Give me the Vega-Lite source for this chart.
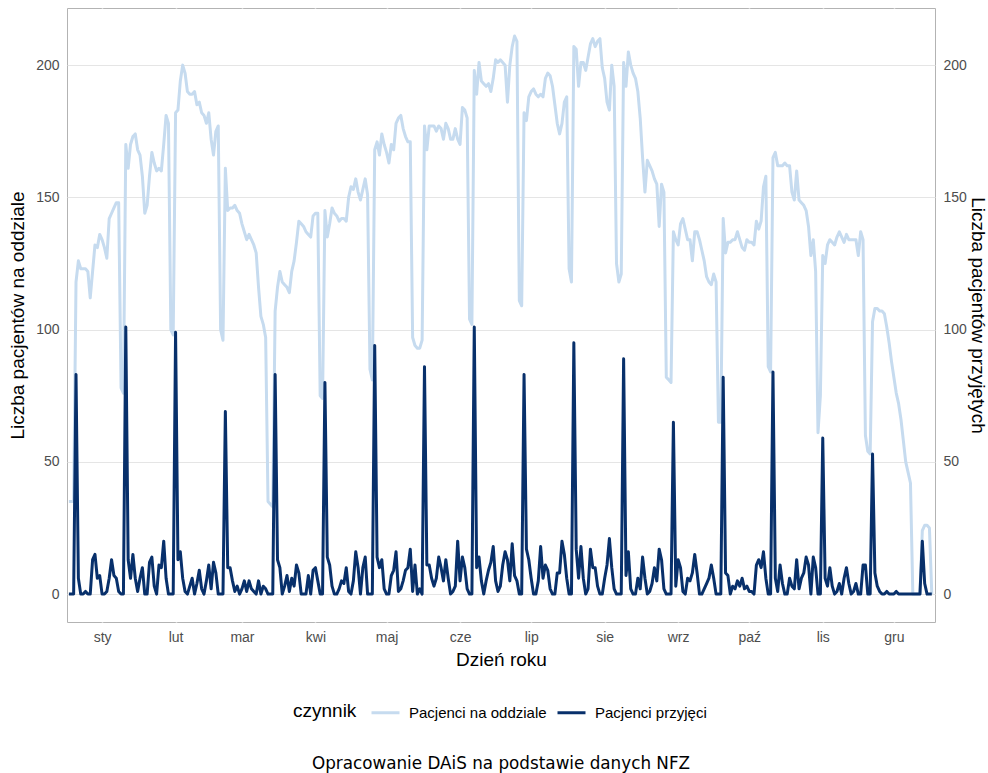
{
"$schema": "https://vega.github.io/schema/vega-lite/v6.json",
"width": 868, "height": 614,
"autosize": {"type": "none"},
"padding": {"left": 67, "top": 8, "right": 53, "bottom": 151},
"background": "white",
"title": {"text": "Opracowanie DAiS na podstawie danych NFZ", "orient": "bottom", "anchor": "middle", "offset": 35, "font": "DejaVu Sans", "fontSize": 16.8, "fontWeight": "normal", "color": "#000000"},
"config": {
 "view": {"stroke": "#b3b3b3", "strokeWidth": 1},
 "font": "Liberation Sans",
 "axis": {"domain": false, "ticks": false, "labelFontSize": 14, "labelColor": "#4d4d4d", "titleFontSize": 19, "titleFontWeight": "normal", "titleColor": "#000000", "gridColor": "#e5e5e5", "gridWidth": 1}
},
"data": {"values": [
{"d":1,"o":35,"p":0},{"d":2,"o":35,"p":0},{"d":3,"o":35,"p":0},{"d":4,"o":118,"p":83},{"d":5,"o":126,"p":6},{"d":6,"o":123,"p":0},{"d":7,"o":123,"p":0},{"d":8,"o":123,"p":1},{"d":9,"o":122,"p":0},{"d":10,"o":112,"p":0},
{"d":11,"o":122,"p":13},{"d":12,"o":132,"p":15},{"d":13,"o":131,"p":6},{"d":14,"o":136,"p":7},{"d":15,"o":134,"p":0},{"d":16,"o":131,"p":0},{"d":17,"o":127,"p":1},{"d":18,"o":142,"p":6},{"d":19,"o":144,"p":13},{"d":20,"o":146,"p":7},
{"d":21,"o":148,"p":6},{"d":22,"o":148,"p":1},{"d":23,"o":78,"p":0},{"d":24,"o":76,"p":0},{"d":25,"o":170,"p":101},{"d":26,"o":161,"p":13},{"d":27,"o":170,"p":6},{"d":28,"o":173,"p":15},{"d":29,"o":174,"p":6},{"d":30,"o":168,"p":1},
{"d":31,"o":166,"p":6},{"d":32,"o":158,"p":10},{"d":33,"o":144,"p":0},{"d":34,"o":147,"p":0},{"d":35,"o":158,"p":12},{"d":36,"o":167,"p":14},{"d":37,"o":163,"p":3},{"d":38,"o":160,"p":0},{"d":39,"o":161,"p":11},{"d":40,"o":160,"p":10},
{"d":41,"o":170,"p":20},{"d":42,"o":181,"p":6},{"d":43,"o":178,"p":0},{"d":44,"o":100,"p":0},{"d":45,"o":98,"p":0},{"d":46,"o":182,"p":99},{"d":47,"o":183,"p":13},{"d":48,"o":194,"p":16},{"d":49,"o":200,"p":6},{"d":50,"o":197,"p":1},
{"d":51,"o":190,"p":0},{"d":52,"o":189,"p":3},{"d":53,"o":189,"p":6},{"d":54,"o":190,"p":0},{"d":55,"o":185,"p":4},{"d":56,"o":186,"p":9},{"d":57,"o":182,"p":2},{"d":58,"o":181,"p":0},{"d":59,"o":178,"p":5},{"d":60,"o":182,"p":11},
{"d":61,"o":172,"p":2},{"d":62,"o":166,"p":12},{"d":63,"o":175,"p":8},{"d":64,"o":177,"p":0},{"d":65,"o":100,"p":0},{"d":66,"o":96,"p":0},{"d":67,"o":161,"p":69},{"d":68,"o":145,"p":10},{"d":69,"o":146,"p":10},{"d":70,"o":146,"p":5},
{"d":71,"o":147,"p":1},{"d":72,"o":145,"p":3},{"d":73,"o":144,"p":0},{"d":74,"o":140,"p":2},{"d":75,"o":137,"p":5},{"d":76,"o":134,"p":1},{"d":77,"o":136,"p":5},{"d":78,"o":134,"p":2},{"d":79,"o":132,"p":1},{"d":80,"o":129,"p":0},
{"d":81,"o":116,"p":5},{"d":82,"o":105,"p":0},{"d":83,"o":102,"p":3},{"d":84,"o":97,"p":2},{"d":85,"o":35,"p":0},{"d":86,"o":34,"p":0},{"d":87,"o":33,"p":0},{"d":88,"o":107,"p":83},{"d":89,"o":116,"p":13},{"d":90,"o":122,"p":10},
{"d":91,"o":118,"p":0},{"d":92,"o":117,"p":3},{"d":93,"o":116,"p":7},{"d":94,"o":114,"p":1},{"d":95,"o":122,"p":6},{"d":96,"o":126,"p":3},{"d":97,"o":133,"p":11},{"d":98,"o":141,"p":8},{"d":99,"o":140,"p":0},{"d":100,"o":139,"p":0},
{"d":101,"o":137,"p":0},{"d":102,"o":136,"p":7},{"d":103,"o":135,"p":0},{"d":104,"o":143,"p":9},{"d":105,"o":144,"p":10},{"d":106,"o":144,"p":5},{"d":107,"o":75,"p":0},{"d":108,"o":74,"p":0},{"d":109,"o":145,"p":80},{"d":110,"o":135,"p":14},
{"d":111,"o":140,"p":11},{"d":112,"o":146,"p":3},{"d":113,"o":144,"p":0},{"d":114,"o":143,"p":0},{"d":115,"o":141,"p":2},{"d":116,"o":142,"p":5},{"d":117,"o":142,"p":4},{"d":118,"o":141,"p":10},{"d":119,"o":150,"p":1},{"d":120,"o":154,"p":0},
{"d":121,"o":153,"p":5},{"d":122,"o":157,"p":16},{"d":123,"o":152,"p":10},{"d":124,"o":149,"p":0},{"d":125,"o":153,"p":10},{"d":126,"o":157,"p":14},{"d":127,"o":151,"p":0},{"d":128,"o":85,"p":0},{"d":129,"o":81,"p":0},{"d":130,"o":168,"p":94},
{"d":131,"o":171,"p":14},{"d":132,"o":166,"p":10},{"d":133,"o":174,"p":13},{"d":134,"o":170,"p":2},{"d":135,"o":167,"p":0},{"d":136,"o":163,"p":0},{"d":137,"o":170,"p":7},{"d":138,"o":168,"p":9},{"d":139,"o":178,"p":16},{"d":140,"o":180,"p":1},
{"d":141,"o":181,"p":2},{"d":142,"o":176,"p":5},{"d":143,"o":173,"p":9},{"d":144,"o":171,"p":10},{"d":145,"o":171,"p":17},{"d":146,"o":97,"p":1},{"d":147,"o":94,"p":11},{"d":148,"o":93,"p":0},{"d":149,"o":93,"p":2},{"d":150,"o":96,"p":0},
{"d":151,"o":177,"p":86},{"d":152,"o":168,"p":11},{"d":153,"o":177,"p":11},{"d":154,"o":177,"p":6},{"d":155,"o":177,"p":3},{"d":156,"o":175,"p":6},{"d":157,"o":177,"p":14},{"d":158,"o":176,"p":10},{"d":159,"o":172,"p":5},{"d":160,"o":178,"p":13},
{"d":161,"o":176,"p":6},{"d":162,"o":172,"p":0},{"d":163,"o":172,"p":1},{"d":164,"o":176,"p":3},{"d":165,"o":172,"p":20},{"d":166,"o":170,"p":5},{"d":167,"o":184,"p":14},{"d":168,"o":183,"p":10},{"d":169,"o":180,"p":2},{"d":170,"o":104,"p":0},
{"d":171,"o":102,"p":0},{"d":172,"o":198,"p":101},{"d":173,"o":189,"p":10},{"d":174,"o":201,"p":14},{"d":175,"o":194,"p":5},{"d":176,"o":193,"p":0},{"d":177,"o":192,"p":5},{"d":178,"o":193,"p":9},{"d":179,"o":190,"p":12},{"d":180,"o":195,"p":18},
{"d":181,"o":202,"p":5},{"d":182,"o":201,"p":1},{"d":183,"o":202,"p":3},{"d":184,"o":201,"p":11},{"d":185,"o":200,"p":16},{"d":186,"o":186,"p":13},{"d":187,"o":200,"p":5},{"d":188,"o":207,"p":19},{"d":189,"o":211,"p":7},{"d":190,"o":209,"p":5},
{"d":191,"o":111,"p":0},{"d":192,"o":109,"p":0},{"d":193,"o":182,"p":83},{"d":194,"o":179,"p":17},{"d":195,"o":188,"p":13},{"d":196,"o":190,"p":6},{"d":197,"o":191,"p":0},{"d":198,"o":189,"p":0},{"d":199,"o":188,"p":5},{"d":200,"o":189,"p":18},
{"d":201,"o":188,"p":6},{"d":202,"o":195,"p":11},{"d":203,"o":197,"p":9},{"d":204,"o":196,"p":2},{"d":205,"o":192,"p":0},{"d":206,"o":185,"p":0},{"d":207,"o":178,"p":8},{"d":208,"o":174,"p":8},{"d":209,"o":178,"p":20},{"d":210,"o":186,"p":15},
{"d":211,"o":188,"p":6},{"d":212,"o":123,"p":0},{"d":213,"o":118,"p":0},{"d":214,"o":207,"p":95},{"d":215,"o":206,"p":17},{"d":216,"o":192,"p":6},{"d":217,"o":201,"p":18},{"d":218,"o":201,"p":6},{"d":219,"o":198,"p":0},{"d":220,"o":203,"p":2},
{"d":221,"o":208,"p":17},{"d":222,"o":210,"p":10},{"d":223,"o":207,"p":10},{"d":224,"o":209,"p":3},{"d":225,"o":210,"p":0},{"d":226,"o":199,"p":0},{"d":227,"o":195,"p":6},{"d":228,"o":186,"p":11},{"d":229,"o":183,"p":21},{"d":230,"o":200,"p":10},
{"d":231,"o":192,"p":2},{"d":232,"o":125,"p":0},{"d":233,"o":118,"p":0},{"d":234,"o":121,"p":0},{"d":235,"o":201,"p":89},{"d":236,"o":192,"p":7},{"d":237,"o":205,"p":16},{"d":238,"o":200,"p":2},{"d":239,"o":197,"p":0},{"d":240,"o":195,"p":0},
{"d":241,"o":190,"p":6},{"d":242,"o":180,"p":2},{"d":243,"o":165,"p":14},{"d":244,"o":152,"p":6},{"d":245,"o":164,"p":0},{"d":246,"o":162,"p":1},{"d":247,"o":160,"p":4},{"d":248,"o":157,"p":10},{"d":249,"o":155,"p":5},{"d":250,"o":139,"p":17},
{"d":251,"o":155,"p":13},{"d":252,"o":152,"p":2},{"d":253,"o":82,"p":0},{"d":254,"o":81,"p":0},{"d":255,"o":80,"p":0},{"d":256,"o":137,"p":65},{"d":257,"o":134,"p":3},{"d":258,"o":132,"p":13},{"d":259,"o":140,"p":10},{"d":260,"o":142,"p":1},
{"d":261,"o":138,"p":0},{"d":262,"o":134,"p":6},{"d":263,"o":134,"p":5},{"d":264,"o":126,"p":8},{"d":265,"o":137,"p":15},{"d":266,"o":137,"p":8},{"d":267,"o":134,"p":0},{"d":268,"o":130,"p":0},{"d":269,"o":126,"p":2},{"d":270,"o":120,"p":4},
{"d":271,"o":118,"p":6},{"d":272,"o":117,"p":11},{"d":273,"o":121,"p":6},{"d":274,"o":118,"p":0},{"d":275,"o":65,"p":0},{"d":276,"o":65,"p":0},{"d":277,"o":142,"p":82},{"d":278,"o":129,"p":8},{"d":279,"o":133,"p":7},{"d":280,"o":133,"p":0},
{"d":281,"o":134,"p":3},{"d":282,"o":134,"p":2},{"d":283,"o":137,"p":5},{"d":284,"o":134,"p":3},{"d":285,"o":131,"p":6},{"d":286,"o":130,"p":2},{"d":287,"o":134,"p":3},{"d":288,"o":133,"p":1},{"d":289,"o":133,"p":1},{"d":290,"o":132,"p":0},
{"d":291,"o":141,"p":11},{"d":292,"o":138,"p":13},{"d":293,"o":141,"p":10},{"d":294,"o":154,"p":16},{"d":295,"o":158,"p":6},{"d":296,"o":86,"p":0},{"d":297,"o":84,"p":0},{"d":298,"o":165,"p":84},{"d":299,"o":167,"p":6},{"d":300,"o":162,"p":1},
{"d":301,"o":162,"p":11},{"d":302,"o":162,"p":4},{"d":303,"o":163,"p":0},{"d":304,"o":162,"p":0},{"d":305,"o":162,"p":6},{"d":306,"o":152,"p":3},{"d":307,"o":149,"p":2},{"d":308,"o":160,"p":13},{"d":309,"o":149,"p":2},{"d":310,"o":148,"p":6},
{"d":311,"o":147,"p":8},{"d":312,"o":145,"p":14},{"d":313,"o":139,"p":11},{"d":314,"o":128,"p":0},{"d":315,"o":134,"p":14},{"d":316,"o":122,"p":10},{"d":317,"o":61,"p":0},{"d":318,"o":75,"p":0},{"d":319,"o":128,"p":59},{"d":320,"o":125,"p":6},
{"d":321,"o":132,"p":3},{"d":322,"o":134,"p":10},{"d":323,"o":133,"p":3},{"d":324,"o":132,"p":0},{"d":325,"o":135,"p":1},{"d":326,"o":137,"p":4},{"d":327,"o":135,"p":0},{"d":328,"o":133,"p":6},{"d":329,"o":136,"p":10},{"d":330,"o":134,"p":4},
{"d":331,"o":134,"p":0},{"d":332,"o":134,"p":1},{"d":333,"o":134,"p":4},{"d":334,"o":128,"p":0},{"d":335,"o":137,"p":0},{"d":336,"o":134,"p":11},{"d":337,"o":60,"p":11},{"d":338,"o":54,"p":0},{"d":339,"o":53,"p":0},{"d":340,"o":103,"p":53},
{"d":341,"o":108,"p":8},{"d":342,"o":108,"p":3},{"d":343,"o":107,"p":1},{"d":344,"o":107,"p":0},{"d":345,"o":106,"p":0},{"d":346,"o":101,"p":1},{"d":347,"o":95,"p":0},{"d":348,"o":88,"p":0},{"d":349,"o":82,"p":0},{"d":350,"o":76,"p":1},
{"d":351,"o":72,"p":0},{"d":352,"o":66,"p":0},{"d":353,"o":58,"p":0},{"d":354,"o":50,"p":0},{"d":355,"o":46,"p":0},{"d":356,"o":42,"p":0},{"d":357,"o":0,"p":0},{"d":358,"o":0,"p":0},{"d":359,"o":0,"p":0},{"d":360,"o":0,"p":0},
{"d":361,"o":24,"p":20},{"d":362,"o":26,"p":4},{"d":363,"o":26,"p":0},{"d":364,"o":25,"p":0},{"d":365,"o":0,"p":0}
]},
"encoding": {
 "x": {"field": "d", "type": "quantitative", "scale": {"domain": [0.2, 366.35], "nice": false, "zero": false},
  "axis": {"values": [15,46,74,105,135,166,196,227,258,288,319,349],
   "labelExpr": "['sty','lut','mar','kwi','maj','cze','lip','sie','wrz','paź','lis','gru'][indexof([15,46,74,105,135,166,196,227,258,288,319,349], datum.value)]",
   "title": "Dzień roku", "grid": true, "gridColor": "#ffffff", "gridWidth": 1.5, "labelPadding": 8, "titlePadding": 6, "labelFlush": false}}
},
"layer": [
 {"mark": {"type": "line", "strokeWidth": 3, "strokeJoin": "round"},
  "encoding": {
   "y": {"field": "o", "type": "quantitative", "scale": {"domain": [-10.55, 221.6], "nice": false, "zero": false},
    "axis": {"orient": "left", "values": [0,50,100,150,200], "title": "Liczba pacjentów na oddziale", "labelPadding": 8, "titlePadding": 8}},
   "color": {"datum": "Pacjenci na oddziale", "type": "nominal",
    "scale": {"domain": ["Pacjenci na oddziale", "Pacjenci przyjęci"], "range": ["#c6dbef", "#08306b"]},
    "legend": {"orient": "none", "legendX": 226, "legendY": 689, "direction": "horizontal", "title": "czynnik", "titleOrient": "left",
     "titleFontSize": 19, "titleFontWeight": "normal", "titleColor": "#000000", "titleBaseline": "bottom", "titleAnchor": "end", "titlePadding": 13,
     "labelFontSize": 15, "labelColor": "#000000", "symbolType": "stroke", "symbolSize": 784, "symbolStrokeWidth": 3,
     "labelOffset": 8, "columnPadding": 4}}
  }},
 {"mark": {"type": "line", "strokeWidth": 3, "strokeJoin": "round"},
  "encoding": {
   "y": {"field": "p", "type": "quantitative", "scale": {"domain": [-10.55, 221.6], "nice": false, "zero": false},
    "axis": {"orient": "right", "values": [0,50,100,150,200], "title": "Liczba pacjentów przyjętych", "titleAngle": 90, "grid": false, "labelPadding": 8, "titlePadding": 1}},
   "color": {"datum": "Pacjenci przyjęci", "type": "nominal"}
  }}
],
"resolve": {"scale": {"y": "independent"}}
}
